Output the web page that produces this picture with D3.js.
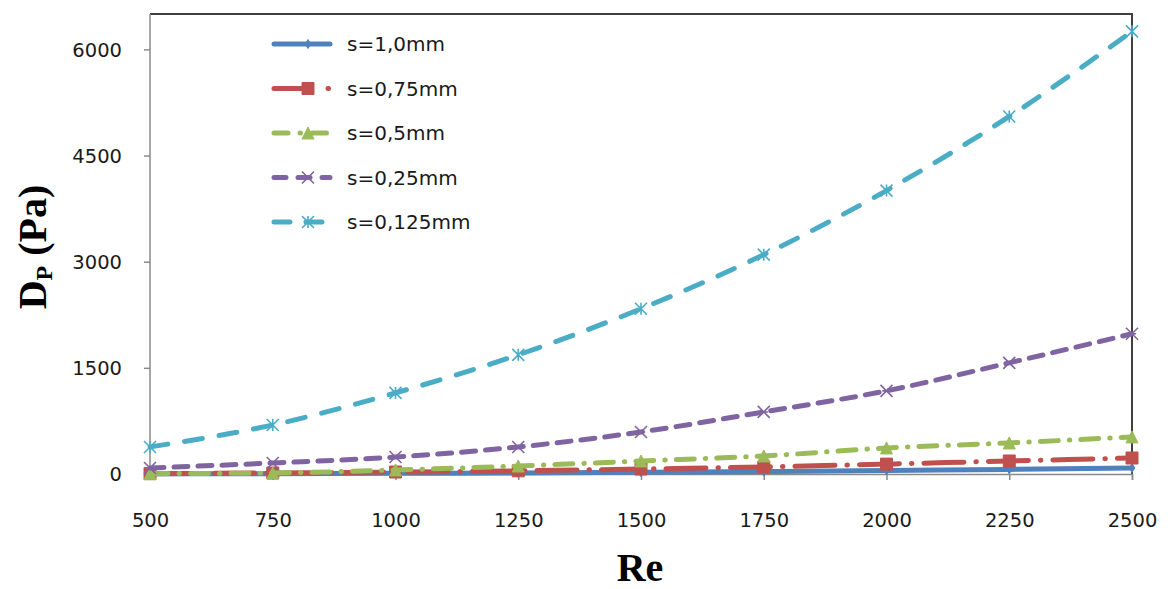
<!DOCTYPE html>
<html><head><meta charset="utf-8">
<script src="https://cdn.jsdelivr.net/npm/d3@7"></script>
<style>body{margin:0;background:#fff}svg{display:block}</style>
</head><body>
<svg id="c" width="1168" height="589"></svg>
<script>
const re = [500, 750, 1000, 1250, 1500, 1750, 2000, 2250, 2500];
const s100 = [2, 5, 10, 15, 25, 35, 50, 65, 85];
const s075 = [5, 14, 28, 45, 70, 99, 140, 184, 226];
const s050 = [5, 14, 57, 113, 184, 255, 368, 439, 524];
const s025 = [85, 156, 240, 382, 594, 877, 1175, 1571, 1981];
const s0125 = [382, 693, 1146, 1684, 2335, 3099, 4005, 5052, 6255];
const seriesNames = ["s=1,0mm", "s=0,75mm", "s=0,5mm", "s=0,25mm", "s=0,125mm"];
const yTicks = [0, 1500, 3000, 4500, 6000];
const xTicks = [500, 750, 1000, 1250, 1500, 1750, 2000, 2250, 2500];

const series = [
  {name: seriesNames[0], values: s100, color: "#4F81BD", dash: null, marker: "diamond"},
  {name: seriesNames[1], values: s075, color: "#C0504D", dash: "40,12,0.5,12", marker: "square"},
  {name: seriesNames[2], values: s050, color: "#9BBB59", dash: "18,11,0.5,11", marker: "triangle"},
  {name: seriesNames[3], values: s025, color: "#8064A2", dash: "14,10", marker: "x"},
  {name: seriesNames[4], values: s0125, color: "#4BACC6", dash: "18,17", marker: "star"}
];

const svg = d3.select("#c");
const L = 150, R = 1132, T = 14, B = 474;
const x = d3.scaleLinear().domain([500, 2500]).range([L, R]);
const y = d3.scaleLinear().domain([0, 6500]).range([B, T]);

svg.append("path").attr("d", `M${L},${T}H${R}V${B}`).attr("fill","none").attr("stroke","#404040").attr("stroke-width",2);

const font = "'DejaVu Sans', Verdana, sans-serif";
const yAxis = svg.append("g").attr("transform", `translate(${L},0)`)
  .call(d3.axisLeft(y).tickValues(yTicks).tickSize(6).tickPadding(22).tickFormat(d3.format("d")));
const xAxis = svg.append("g").attr("transform", `translate(0,${B})`)
  .call(d3.axisBottom(x).tickValues(xTicks).tickSize(6).tickPadding(32).tickFormat(d3.format("d")));
[yAxis, xAxis].forEach(a => {
  a.select(".domain").attr("stroke", "#8a8a8a").attr("stroke-width", 1.5);
  a.selectAll(".tick line").attr("stroke", "#8a8a8a").attr("stroke-width", 1.5);
  a.selectAll(".tick text").attr("font-family", font).attr("font-size", 19.5).attr("fill", "#1a1a1a");
});
yAxis.select(".domain").attr("d", `M-6,${y(0)}H0V${T}`);
yAxis.selectAll(".tick text").attr("dy", "0.35em");
xAxis.selectAll(".tick text").attr("dy", "0.35em").attr("y", 46);

function markerPath(type, size) {
  const h = size / 2;
  switch (type) {
    case "diamond": return `M0,${-h}L${h*0.6},0L0,${h}L${-h*0.6},0Z`;
    case "square": return `M${-h},${-h}H${h}V${h}H${-h}Z`;
    case "triangle": return `M0,${-h}L${h},${h}H${-h}Z`;
    case "x": return `M${-h},${-h}L${h},${h}M${-h},${h}L${h},${-h}M${-h*0.7},0H${h*0.7}`;
    case "star": return `M${-h},${-h}L${h},${h}M${-h},${h}L${h},${-h}M0,${-h}V${h}`;
  }
}
function drawMarker(g, s, cx, cy) {
  const filled = ["diamond","square","triangle"].includes(s.marker);
  const size = s.marker === "diamond" ? 9 : 12;
  g.append("path").attr("d", markerPath(s.marker, size))
    .attr("transform", `translate(${cx},${cy})`)
    .attr("fill", filled ? s.color : "none")
    .attr("stroke", s.color).attr("stroke-width", filled ? 1 : 1.6);
}

const line = d3.line().x((d, i) => x(re[i])).y(d => y(d)).curve(d3.curveMonotoneX);
const plot = svg.append("g");
series.forEach(s => {
  plot.append("path").datum(s.values).attr("d", line)
    .attr("fill", "none").attr("stroke", s.color).attr("stroke-width", 5)
    .attr("stroke-linecap", "round").attr("stroke-dasharray", s.dash);
  s.values.forEach((v, i) => drawMarker(plot, s, x(re[i]), y(v)));
});

const legDash = [null, "34,20,0.5,20", "14,12,0.5,12", "12,12", "16,16"];
const leg = svg.append("g");
series.forEach((s, i) => {
  const cy = 44 + i * 44.5;
  leg.append("path").attr("d", `M274,${cy}H330`).attr("fill","none")
    .attr("stroke", s.color).attr("stroke-width", 5).attr("stroke-linecap","round")
    .attr("stroke-dasharray", legDash[i]);
  drawMarker(leg, s, 308, cy);
  leg.append("text").attr("x", 347).attr("y", cy).attr("dy", "0.35em")
    .attr("font-family", font).attr("font-size", 20).attr("fill", "#1a1a1a").text(s.name);
});

const yt = svg.append("text").attr("transform", "translate(46,247) rotate(-90)")
  .attr("text-anchor", "middle").attr("font-family", "'Liberation Serif','Times New Roman',serif")
  .attr("font-weight", "bold").attr("font-size", 40).attr("fill", "#000");
yt.append("tspan").text("D");
yt.append("tspan").attr("font-size", 24).attr("dy", 6).text("P");
yt.append("tspan").attr("dy", -6).text(" (Pa)");
svg.append("text").attr("x", 640).attr("y", 581).attr("text-anchor", "middle")
  .attr("font-family", "'Liberation Serif','Times New Roman',serif")
  .attr("font-weight", "bold").attr("font-size", 40).attr("fill", "#000").text("Re");
</script>
</body></html>
